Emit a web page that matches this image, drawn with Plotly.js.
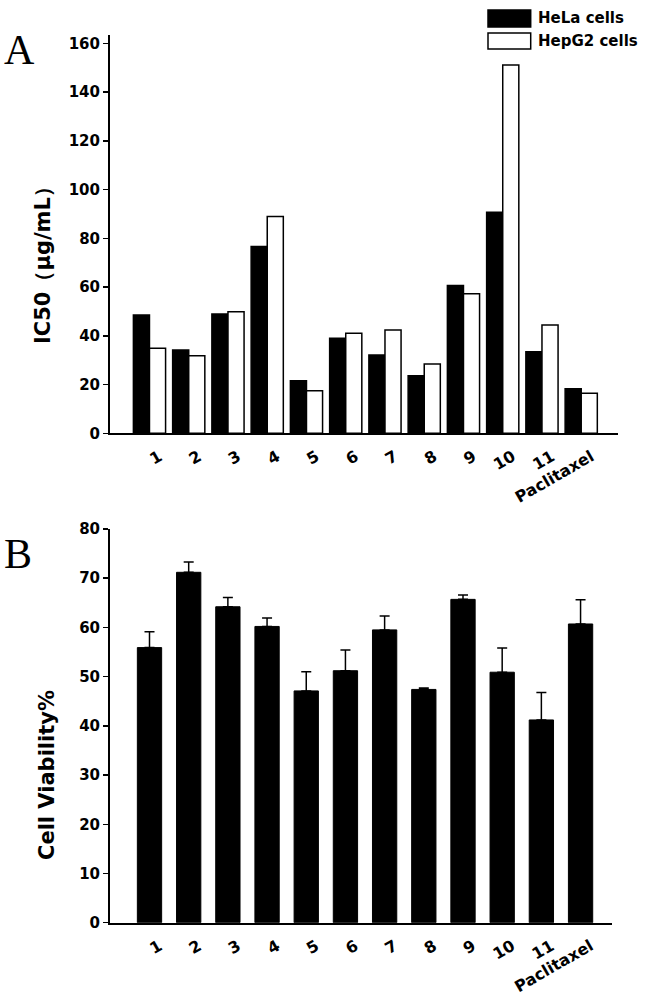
<!DOCTYPE html>
<html>
<head>
<meta charset="utf-8">
<script src="https://cdn.plot.ly/plotly-3.0.1.min.js"></script>
<style>html,body{margin:0;padding:0;background:#fff;}#chart{width:651px;height:1001px;}</style>
</head>
<body>
<div id="chart"></div>
<script>
// ---- data ----
var categories = ['1','2','3','4','5','6','7','8','9','10','11','Paclitaxel'];
var seriesNames = ['HeLa cells', 'HepG2 cells'];
var helaIC50 = [48.5, 34.2, 48.9, 76.6, 21.6, 39.0, 32.1, 23.6, 60.6, 90.7, 33.5, 18.3];
var hepg2IC50 = [34.9, 31.8, 49.9, 88.9, 17.5, 41.0, 42.4, 28.4, 57.2, 151.1, 44.4, 16.4];
var viability = [55.9, 71.2, 64.2, 60.2, 47.1, 51.2, 59.5, 47.4, 65.7, 50.9, 41.2, 60.7];
var viabilityErr = [3.2, 2.1, 1.9, 1.7, 3.9, 4.2, 2.8, 0.3, 0.9, 4.9, 5.6, 4.9];
var yTicksA = [0, 20, 40, 60, 80, 100, 120, 140, 160];
var yTicksB = [0, 10, 20, 30, 40, 50, 60, 70, 80];
var titleA = 'IC50（μg/mL）';
var titleB = 'Cell Viability%';
var panelLabels = ['A', 'B'];

// ---- helpers (pixel -> paper) ----
var W = 651, H = 1001;
function px(x){ return x / W; }
function py(y){ return 1 - y / H; }

var FONT = 'DejaVu Sans, Liberation Sans, Arial, sans-serif';
var yTickFont = {family: FONT, size: 15, color: '#000', weight: 700};
var xTickFont = {family: FONT, size: 16, color: '#000', weight: 700};

var zeros = viability.map(function(){ return 0; });

var traces = [
  {type: 'bar', x: categories, y: helaIC50, name: seriesNames[0], xaxis: 'x', yaxis: 'y',
   width: 0.41, offset: -0.41,
   marker: {color: '#000', line: {color: '#000', width: 1.5}}, showlegend: false},
  {type: 'bar', x: categories, y: hepg2IC50, name: seriesNames[1], xaxis: 'x', yaxis: 'y',
   width: 0.41, offset: 0,
   marker: {color: '#fff', line: {color: '#000', width: 1.5}}, showlegend: false},
  {type: 'bar', x: categories, y: viability, name: 'Cell viability', xaxis: 'x2', yaxis: 'y2',
   width: 0.62, offset: -0.31,
   marker: {color: '#000', line: {color: '#000', width: 1}},
   error_y: {type: 'data', symmetric: false, array: viabilityErr, arrayminus: zeros,
             color: '#000', thickness: 1.5, width: 5},
   showlegend: false}
];

var xCommon = {
  type: 'category', showline: true, linecolor: '#000', linewidth: 2,
  ticks: '', showgrid: false, zeroline: false, tickangle: -30,
  tickfont: xTickFont, ticklabelshift: 10, ticklabelstandoff: 6, fixedrange: true
};
var yCommon = {
  showline: true, linecolor: '#000', linewidth: 2, ticks: 'outside', ticklen: 5,
  tickwidth: 1.5, tickcolor: '#000', showgrid: false, zeroline: false,
  tickfont: yTickFont, tickmode: 'array', fixedrange: true
};

var layout = {
  width: W, height: H,
  margin: {l: 0, r: 0, t: 0, b: 0},
  paper_bgcolor: '#fff', plot_bgcolor: '#fff',
  barmode: 'group',
  showlegend: false,
  xaxis: Object.assign({}, xCommon, {domain: [px(110), px(618)], anchor: 'y', range: [-1.006, 11.937]}),
  yaxis: Object.assign({}, yCommon, {domain: [py(433.3), py(35)], anchor: 'x', range: [0, 163.4], tickvals: yTicksA}),
  xaxis2: Object.assign({}, xCommon, {domain: [px(110), px(612.3)], anchor: 'y2', range: [-1.008, 11.81]}),
  yaxis2: Object.assign({}, yCommon, {domain: [py(922.7), py(529)], anchor: 'x2', range: [0, 80], tickvals: yTicksB}),
  shapes: [
    {type: 'rect', xref: 'paper', yref: 'paper', x0: px(488), x1: px(530.7), y0: py(27), y1: py(10),
     fillcolor: '#000', line: {color: '#000', width: 1.5}},
    {type: 'rect', xref: 'paper', yref: 'paper', x0: px(488), x1: px(530.7), y0: py(49), y1: py(33),
     fillcolor: '#fff', line: {color: '#000', width: 1.5}}
  ],
  annotations: [
    {xref: 'paper', yref: 'paper', x: px(536), y: py(18.5), xanchor: 'left', yanchor: 'middle',
     text: seriesNames[0], showarrow: false, font: {family: FONT, size: 15, color: '#000', weight: 700}},
    {xref: 'paper', yref: 'paper', x: px(536), y: py(41), xanchor: 'left', yanchor: 'middle',
     text: seriesNames[1], showarrow: false, font: {family: FONT, size: 15, color: '#000', weight: 700}},
    {xref: 'paper', yref: 'paper', x: px(43), y: py(260), xanchor: 'center', yanchor: 'middle',
     text: titleA, textangle: -90, showarrow: false, font: {family: FONT, size: 21, color: '#000', weight: 700}},
    {xref: 'paper', yref: 'paper', x: px(47), y: py(775), xanchor: 'center', yanchor: 'middle',
     text: titleB, textangle: -90, showarrow: false, font: {family: FONT, size: 21, color: '#000', weight: 700}},
    {xref: 'paper', yref: 'paper', x: px(2), y: py(50), xanchor: 'left', yanchor: 'middle',
     text: panelLabels[0], showarrow: false, font: {family: 'Liberation Serif, Times New Roman, serif', size: 42, color: '#000'}},
    {xref: 'paper', yref: 'paper', x: px(2), y: py(554), xanchor: 'left', yanchor: 'middle',
     text: panelLabels[1], showarrow: false, font: {family: 'Liberation Serif, Times New Roman, serif', size: 42, color: '#000'}}
  ]
};

Plotly.newPlot('chart', traces, layout, {displayModeBar: false, staticPlot: true});
</script>
</body>
</html>
